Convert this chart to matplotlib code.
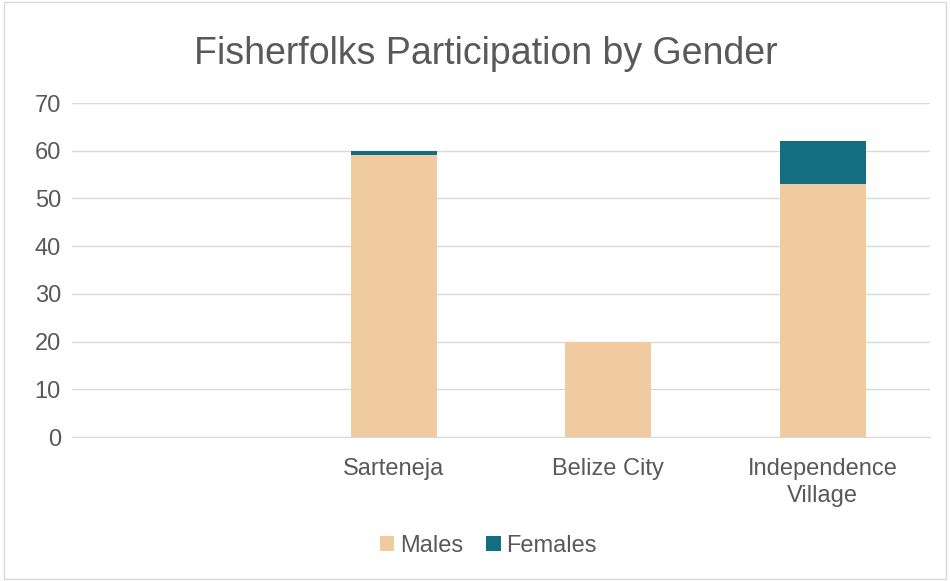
import matplotlib.pyplot as plt
import numpy as np

# chart values
categories = ["", "Sarteneja", "Belize City", "Independence\nVillage"]
males = [0, 59, 20, 53]
females = [0, 1, 0, 9]
yticks = list(range(0, 80, 10))

plt.rcParams['font.family'] = ['Liberation Sans', 'DejaVu Sans']

fig = plt.figure(figsize=(9.5, 5.81), dpi=100)
ax = fig.add_axes([0.0758, 0.2478, 0.903, 0.5749])

x = np.arange(len(categories))
ax.bar(x, males, width=0.4, color='#EFCB9F', label='Males', zorder=3)
ax.bar(x, females, width=0.4, bottom=males, color='#136F7F', label='Females', zorder=3)

ax.set_xlim(-0.5, len(categories) - 0.5)
ax.set_ylim(0, 70)
ax.set_yticks(yticks)
ax.set_xticks(x)
ax.set_xticklabels(categories, linespacing=1.3)
ax.grid(axis='y', color='#D9D9D9', linewidth=1, zorder=0)
for s in ['top', 'right', 'left']:
    ax.spines[s].set_visible(False)
ax.spines['bottom'].set_color('#D9D9D9')
ax.tick_params(axis='both', length=0, labelsize=17, colors='#595959', pad=8)
ax.tick_params(axis='x', pad=15)

fig.suptitle('Fisherfolks Participation by Gender', x=0.511, y=0.938,
             fontsize=27, color='#595959')

fig.legend(loc='center', bbox_to_anchor=(0.514, 0.06), ncol=2, frameon=False,
           fontsize=17, handlelength=0.6, handleheight=0.6, handletextpad=0.25,
           columnspacing=1.0, labelcolor='#595959')

# light border round the whole chart
fig.patches.append(plt.Rectangle((0.004, 0.004), 0.992, 0.992, transform=fig.transFigure,
                                 fill=False, edgecolor='#D9D9D9', linewidth=1))

fig.savefig('out.png', dpi=100)
